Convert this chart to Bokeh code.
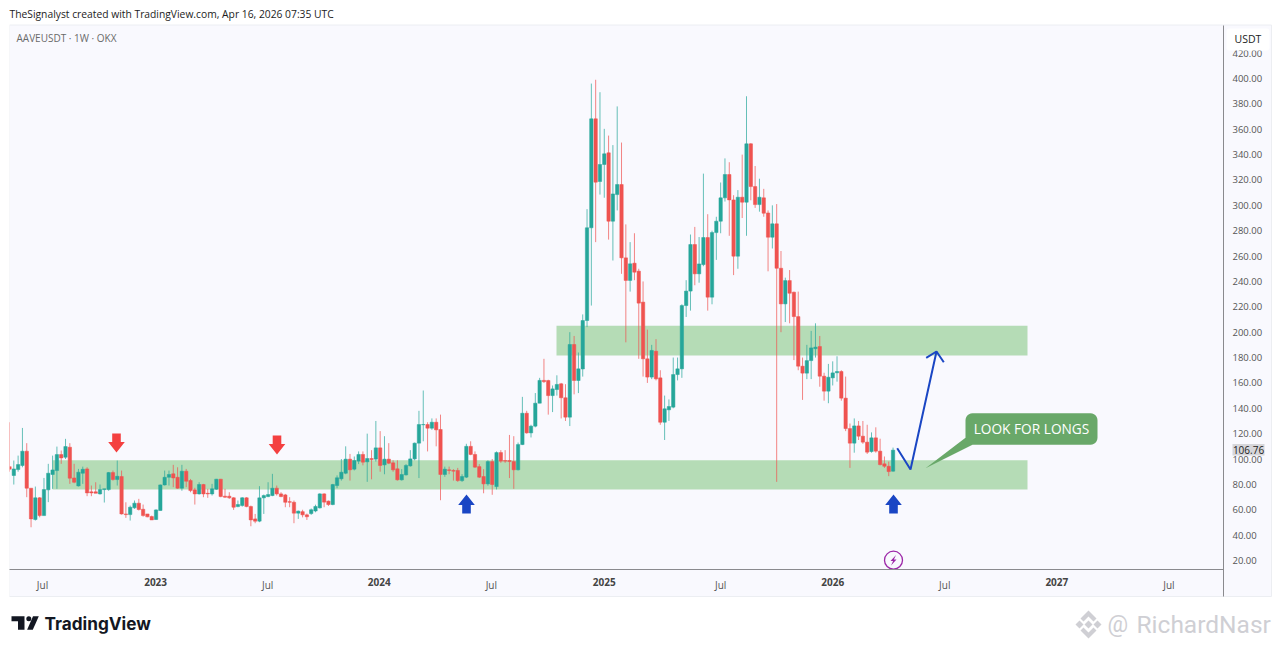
from bokeh.plotting import figure
from bokeh.embed import file_html
from bokeh.resources import INLINE
from bokeh.models import (Range1d, FixedTicker, LinearAxis, BoxAnnotation,
                          Label, NumeralTickFormatter, ColumnDataSource)
import math

opens = [94,87,91.7,94.9,106.2,77,52.3,69.4,55.4,75.7,
 87.8,90.9,103.5,101.4,109.3,85.1,78.8,88.8,92.2,74.1,
 74.1,72.5,75.9,75.9,89.3,83.8,86.2,56.7,56.2,61.5,
 65.2,60.4,56.7,54.6,52.3,59.4,79.6,85.6,88.3,85.6,
 77,90.4,83,75.7,72.5,79.9,73,72.5,76.2,84.1,
 70.7,70.7,69.4,62.5,63.3,69.4,62.5,52.8,51,69.4,
 70.4,71.2,77,72.5,71.7,66.4,65.9,57.3,58.5,56,
 57,59,61.5,72.5,66.8,64.1,79.1,84.4,88.8,99.9,
 92,98.3,103.6,97.8,100.4,99.9,108.8,95.4,99.9,97,
 92.3,83.6,87.5,94.6,100.1,112.5,127,127.2,124.3,129,
 123.3,87.8,91.5,91,91,83,85.7,110,103.6,94,
 86.2,80.4,98,78.3,105.1,98.8,98.8,98,91.5,111.4,
 136.1,120.6,125.9,144,162,161.9,150,154.8,159.3,148.3,
 133,190.3,161.9,171,209.2,282.3,368.2,318.8,332.2,341.4,
 287.5,308.5,316.4,258.6,240.8,254.4,248.1,223.7,179,164.6,
 185,164,129,138.8,140.9,166.6,171.1,221,232.4,269.1,
 246,253.3,274.6,227.6,278.5,287.5,305.9,324.3,304.3,259.9,
 306.4,302.5,348.5,314.8,300.6,305.9,294,274.9,285.4,250.4,
 222.3,240.7,231.5,212.3,173.2,167.7,177.6,187,188.7,165.3,
 153.5,164,168,169,148,124,112.5,126.1,118,113.3,
 105.9,116.7,106.2,96.2,94.3,90.4]
highs = [129,98.8,102.7,124.5,112.5,77,78.3,70,85.1,96.2,
 102.7,109.8,106.7,115.9,112.5,96.2,92.2,94,93.5,79.1,
 81.7,79.9,76.5,89.8,90.9,98.8,90.9,65.9,63.3,67.3,
 68.6,64.1,56.7,55.4,60.4,79.9,90.9,90.9,95.4,93.5,
 95.4,92.2,84.3,77.3,81.7,80.4,76.5,80.4,84.3,84.3,
 76.5,73.8,69.9,67.3,69.9,69.9,63.3,56.7,78.6,72,
 81.7,88.3,79.1,73.8,72.5,69.9,67.3,59.4,60,57,
 61,64,73,73,67.3,80.4,87.1,100,110,104,
 102,106,106,120,107,130,122,118,112.5,99,
 99,92,96,107,113,138,154,129,132,132,
 135,94,94,92,93,88,112,114,106,96,
 92,99,100,106,107,107,119,118,113,149,
 138,127,152,164,179,162.5,158,166,160,159,
 200,197,184,214,297,396,399,389.2,360.3,355,
 347.5,378,349.5,285,271,278,250,240,202,190,
 194.5,170,150,147,180,180,222,241,277,283,
 275,325,293,280,291,318,337,334,308,312,
 340,386,349,331,321,313,296,300,301,264,
 243,249,232,232,180,190,201,207,197,168,
 175,177,181,170,165,128,132,130,130,127,
 121,125,116,102,98,109]
lows = [90,79.9,90,93.5,69.9,46.2,51.5,54,55.4,66,
 76.5,76.5,96.2,100,80.4,80.9,78.3,80.4,70.7,70.7,
 73,72,65.7,75,83,79.1,56.2,53.6,51.5,60.7,
 59.4,54.6,54.1,52,52,59.4,79.1,79.1,77.8,76.5,
 75,77.8,73.8,64.1,72,69.9,69.4,71.2,75.7,69.9,
 69.4,68.6,59.9,62,62.5,62,47,49.4,50.2,56.7,
 69.9,70.7,71.2,69.9,62,62,49.4,52.8,54,52,
 56,58,61,62,63,63.6,77,83,88,83,
 91,96,95,82,84,98,90,88,96,90,
 83,83,87,94,99,85,114,106,123,110,
 67.5,86,88,83,82,82,85,103,93,85,
 73,79,71.8,76,97,97,85,76.5,91,111,
 120,117,125,144,160,135,137,150,132,130,
 126,151,152,165,204,221,271,308.5,306,273,
 256.5,296,246,192,232,241,179,165,160,163,
 162,127,115,130,140,162,164,212,217,237,
 239,252,217,222,257,278,303,276,245,250,
 290,276,304,298,295,291,248,266,82,200,
 208,207,178,170,146.6,163,163,180,157,146,
 144,158,161,146,122,93,105,115,112,104,
 105,105,95,93,86.5,90]
closes = [92,92.2,95.6,106.2,77,52.8,69.4,55.4,75.9,88.8,
 91.4,103.5,100.9,109.8,84.9,81.7,89.6,91.9,73.3,73.3,
 73,75.9,76.5,89.3,83.8,86.4,56.7,56.2,62,65.2,
 60.2,55.4,54.4,52,59.9,79.6,85.6,87.8,85.1,77,
 90.4,82.5,75.1,72.5,79.9,72.5,72.5,76.5,84.1,70.4,
 69.9,69.4,62,64.1,69.4,62.5,52,51,69.4,71.2,
 72,77,72.5,70.4,65.9,65.9,57.3,58.9,56,54.5,
 60,62.6,72.5,66,64.1,79.9,85.2,89.6,99.9,91.5,
 98.8,103.6,97.5,100.4,99.6,108.8,94.9,99.9,96.7,91.5,
 83.6,87.8,94.9,100.1,112.5,127.2,127.2,124.3,129,123,
 87.8,92,91,90.4,83,86.2,110,103.6,93.6,85.7,
 80.4,98,79.9,105.1,98.3,98.3,98,91.5,111.4,136.1,
 120.6,125.9,144,162,161,150,155.3,158.8,148.3,133,
 190.3,161.9,171.1,209.2,282.3,368.2,318.3,332.2,340.6,287.5,
 309,316.4,258.6,240.8,253.9,247.3,222.9,179,164.6,185.6,
 163.2,129,139.6,141.4,166.6,171.1,221,232.4,269.1,246,
 253.8,274.6,227.6,278.5,287.5,305.9,324.3,304.3,259.9,306.4,
 302.5,348.5,314.8,300.6,306.4,293.8,274.9,285.4,250.4,222.3,
 240.7,230.7,212.3,173.2,167.7,177.6,187.6,188.2,165.3,153.5,
 164.5,167.9,169,148,124,112.5,126.1,118,113.3,105.4,
 116.7,106.2,95.6,94.3,90.1,107]

month_ticks = [7.66, 59.9, 111.8, 165, 217, 269]
month_labels = ["Jul"] * 6
year_ticks = [33.9, 85.8, 138, 191, 243]
year_labels = ["2023", "2024", "2025", "2026", "2027"]
price_ticks = list(range(20, 421, 20))
last_price = 106.76

UP, DOWN = "#26a69a", "#ef5350"
PANE = "#f9f9fe"
ZONE = "#b5dcb6"
BLUE = "#1a46c4"
ARROW_RED = "#f44040"
CALLOUT = "#69a869"
AXIS = "#8a8a8e"
LOGO = "#131722"
MARK = "#cfcfd4"

assert len(opens) == len(highs) == len(lows) == len(closes) == 206


def X(px):
    return (px - 9) / 4.31


def Y(py):
    return 461.5 - 0.7884 * py


p = figure(width=1280, height=649, output_backend="svg", toolbar_location=None,
           x_range=Range1d(X(0), X(1280)), y_range=Range1d(Y(649), Y(0)),
           min_border=0, min_border_left=0, min_border_right=0, min_border_top=0, min_border_bottom=0,
           background_fill_color="white", border_fill_color="white",
           outline_line_color=None, tools="", x_axis_type=None, y_axis_type=None)
p.grid.visible = False

# chart pane
p.quad(left=[X(9)], right=[X(1271)], bottom=[Y(596)], top=[Y(24.5)], fill_color=PANE, line_color="#eceef2")

# axes
ax_y = LinearAxis(ticker=FixedTicker(ticks=price_ticks), formatter=NumeralTickFormatter(format="0.00"),
                  fixed_location=X(1223), bounds=(Y(596), Y(25)))
ax_y.major_tick_line_color = None
ax_y.major_tick_out = 0
ax_y.minor_tick_line_color = None
ax_y.axis_line_color = AXIS
ax_y.major_label_text_font = "Open Sans"
ax_y.major_label_text_font_size = "9.5px"
ax_y.major_label_text_color = "#555555"
ax_y.major_label_standoff = 9
p.add_layout(ax_y, "right")

ax_x = LinearAxis(ticker=FixedTicker(ticks=month_ticks), major_label_overrides=dict(zip(month_ticks, month_labels)),
                  fixed_location=Y(569), bounds=(X(9), X(1223)))
ax_x.major_tick_line_color = None
ax_x.major_tick_out = 0
ax_x.minor_tick_line_color = None
ax_x.axis_line_color = AXIS
ax_x.major_label_text_font = "Open Sans"
ax_x.major_label_text_font_size = "10px"
ax_x.major_label_text_color = "#555555"
ax_x.major_label_standoff = 8
p.add_layout(ax_x, "below")

ax_year = LinearAxis(ticker=FixedTicker(ticks=year_ticks), major_label_overrides=dict(zip(year_ticks, year_labels)),
                     fixed_location=Y(569), bounds=(X(9), X(1223)))
ax_year.major_tick_line_color = None
ax_year.major_tick_out = 0
ax_year.minor_tick_line_color = None
ax_year.axis_line_color = None
ax_year.major_label_text_font = "Open Sans"
ax_year.major_label_text_font_size = "10px"
ax_year.major_label_text_font_style = "bold"
ax_year.major_label_text_color = "#444444"
ax_year.major_label_standoff = 8
p.add_layout(ax_year, "below")

# zones
p.quad(left=[X(52)], right=[X(1027)], bottom=[76], top=[99], fill_color=ZONE, line_color=None)
p.quad(left=[X(556)], right=[X(1027)], bottom=[181.7], top=[205], fill_color=ZONE, line_color=None)

# candles
n = list(range(len(opens)))
colors = [UP if c >= o else DOWN for o, c in zip(opens, closes)]
src = ColumnDataSource(dict(x=n, o=opens, h=highs, l=lows, c=closes, color=colors))
p.segment(x0="x", x1="x", y0="l", y1="h", color="color", line_width=1, line_alpha=0.7, source=src)
p.vbar(x="x", width=0.78, top="o", bottom="c", fill_color="color", line_color="color",
       line_width=0.5, source=src)

# hide what falls left of the pane
p.quad(left=[X(0)], right=[X(9)], bottom=[Y(596)], top=[Y(24)], fill_color="white", line_color=None)


def down_arrow(cx, top):
    return ([cx - 4.3, cx + 4.3, cx + 4.3, cx + 8.3, cx, cx - 8.3, cx - 4.3],
            [top, top, top + 8.5, top + 8.5, top + 19, top + 8.5, top + 8.5])


def up_arrow(cx, top):
    return ([cx, cx + 8.3, cx + 4.3, cx + 4.3, cx - 4.3, cx - 4.3, cx - 8.3],
            [top, top + 10.5, top + 10.5, top + 19, top + 19, top + 10.5, top + 10.5])


for fn, cx, top, col in [(down_arrow, 116, 433, ARROW_RED), (down_arrow, 276.5, 435, ARROW_RED),
                         (up_arrow, 466, 494, BLUE), (up_arrow, 893, 494, BLUE)]:
    ax, ay = fn(cx, top)
    p.patch([X(v) for v in ax], [Y(v) for v in ay], fill_color=col, line_color=None)

# projected path
path = [(896.7, 447.7), (910, 469), (936, 351)]
p.line([X(a) for a, b in path], [Y(b) for a, b in path], line_color=BLUE, line_width=2)
head = [(925.7, 357.3), (936, 351), (943.3, 361.7)]
p.line([X(a) for a, b in head], [Y(b) for a, b in head], line_color=BLUE, line_width=2)


# callout
def rounded(x0, y0, x1, y1, r):
    pts = []
    for cx, cy, a0 in [(x1 - r, y0 + r, -90), (x1 - r, y1 - r, 0), (x0 + r, y1 - r, 90), (x0 + r, y0 + r, 180)]:
        for k in range(7):
            t = math.radians(a0 + k * 15)
            pts.append((cx + r * math.cos(t), cy + r * math.sin(t)))
    return pts


box = rounded(965, 412.7, 1097, 444.3, 7)
outline = box[:14] + [(972, 444.3), (925, 467.7), (965, 437.3)] + box[21:]
p.patch([X(a) for a, b in outline], [Y(b) for a, b in outline], fill_color=CALLOUT, line_color=None)
p.add_layout(Label(x=X(1031), y=Y(428), text="LOOK FOR LONGS", text_color="white", text_font="Open Sans",
                   text_font_size="13.7px", text_align="center", text_baseline="middle"))

# flash icon
p.scatter([X(893)], [Y(559.7)], size=18, marker="circle", fill_color=None, line_color="#9c27a8", line_width=1.3)
bolt = [(895.5, 554.5), (890, 560.5), (892.6, 560.5), (890.5, 565), (896, 559), (893.4, 559)]
p.patch([X(a) for a, b in bolt], [Y(b) for a, b in bolt], fill_color="#9c27a8", line_color=None)

# texts
p.add_layout(Label(x=X(9), y=Y(13.5), text="TheSignalyst created with TradingView.com, Apr 16, 2026 07:35 UTC",
                   text_color="#1c1c1c", text_font="Open Sans", text_font_size="10.3px", text_baseline="middle"))
p.add_layout(Label(x=X(16), y=Y(37.5), text="AAVEUSDT · 1W · OKX", text_color="#6a6a6a",
                   text_font="Open Sans", text_font_size="10px", text_baseline="middle"))

# unit box over the top of the axis
p.add_layout(BoxAnnotation(left=X(1226), right=X(1269), top=Y(28), bottom=Y(50), fill_color="white",
                           fill_alpha=1, line_alpha=0, border_radius=3, level="overlay"))
p.add_layout(Label(x=X(1247.5), y=Y(38), text="USDT", text_color="#222222", text_font="Open Sans",
                   text_font_size="10.5px", text_align="center", text_baseline="middle", level="overlay"))

# last price tag
p.add_layout(BoxAnnotation(left=X(1232), right=X(1264), top=Y(443.5), bottom=Y(455), fill_color="#d6d6da",
                           fill_alpha=1, line_alpha=0, level="overlay"))
p.add_layout(Label(x=X(1248), y=Y(449.5), text=f"{last_price:.2f}", text_color="#222222",
                   text_font="Open Sans", text_font_size="10px", text_align="center",
                   text_baseline="middle", level="overlay"))

# TradingView logo
p.patch([X(v) for v in [11, 24, 24, 17.5, 17.5, 11]], [Y(v) for v in [615.7, 615.7, 629.3, 629.3, 620.7, 620.7]],
        fill_color=LOGO, line_color=None)
p.scatter([X(28.3)], [Y(618.2)], size=5, marker="circle", fill_color=LOGO, line_color=None)
p.patch([X(v) for v in [32.5, 38.3, 32.3, 26.6]], [Y(v) for v in [615.7, 615.7, 629.3, 629.3]],
        fill_color=LOGO, line_color=None)
p.add_layout(Label(x=X(44), y=Y(622.5), text="TradingView", text_color=LOGO, text_font="Inter",
                   text_font_size="17.2px", text_font_style="bold", text_baseline="middle"))

# watermark
for xs, ys in [([1088, 1096, 1093, 1088, 1083, 1080], [610, 618, 621, 616, 621, 618]),
               ([1088, 1096, 1093, 1088, 1083, 1080], [638, 630, 627, 632, 627, 630]),
               ([1075, 1079, 1083, 1079], [624, 620, 624, 628]),
               ([1093, 1097, 1101, 1097], [624, 620, 624, 628]),
               ([1084, 1088, 1092, 1088], [624, 620, 624, 628])]:
    p.patch([X(v) for v in xs], [Y(v) for v in ys], fill_color=MARK, line_color=None)
p.add_layout(Label(x=X(1107), y=Y(624), text="@", text_color=MARK, text_font="Roboto",
                   text_font_size="23px", text_baseline="middle"))
p.add_layout(Label(x=X(1136), y=Y(624), text="RichardNasr", text_color=MARK, text_font="Roboto",
                   text_font_size="24.5px", text_baseline="middle"))

open("out.html", "w").write(file_html(p, INLINE))
